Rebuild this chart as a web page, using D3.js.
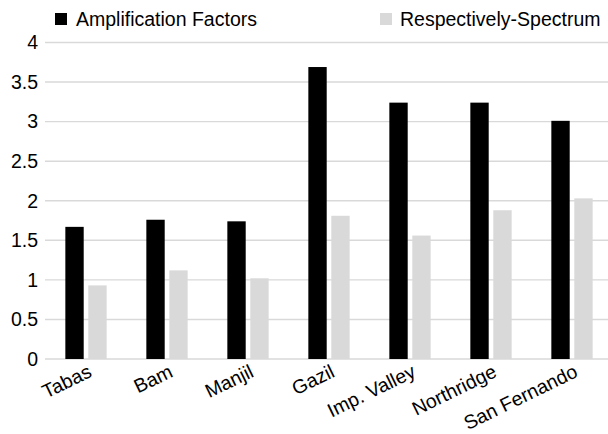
<!DOCTYPE html>
<html>
<head>
<meta charset="utf-8">
<script src="https://cdn.jsdelivr.net/npm/d3@7"></script>
<style>
  html, body { margin: 0; padding: 0; background: #fff; }
  svg { display: block; font-family: "Liberation Sans", Arial, sans-serif; }
</style>
</head>
<body>
<svg id="chart" width="608" height="434"></svg>
<script>
// Earthquake records and the two measures compared for each
const categories = ["Tabas", "Bam", "Manjil", "Gazil", "Imp. Valley", "Northridge", "San Fernando"];
const seriesNames = ["Amplification Factors", "Respectively-Spectrum"];
const amplificationFactors = [1.67, 1.76, 1.74, 3.69, 3.24, 3.24, 3.01];
const respectivelySpectrum = [0.93, 1.12, 1.02, 1.81, 1.56, 1.88, 2.03];
const yTicks = [0, 0.5, 1, 1.5, 2, 2.5, 3, 3.5, 4];
const colors = ["#000000", "#d9d9d9"];

const svg = d3.select("#chart");
const W = 608;

const x0 = d3.scaleBand()
  .domain(categories)
  .range([45.5, 612.5])
  .paddingInner(0.49)
  .paddingOuter(0.245);

const x1 = d3.scaleBand()
  .domain(seriesNames)
  .range([0, x0.bandwidth()])
  .paddingInner(0.2);

const y = d3.scaleLinear().domain([0, 4]).range([359, 42.5]);

const color = d3.scaleOrdinal().domain(seriesNames).range(colors);

// Horizontal gridlines
svg.append("g")
  .selectAll("line")
  .data(yTicks)
  .join("line")
  .attr("x1", 45)
  .attr("x2", W)
  .attr("y1", d => y(d))
  .attr("y2", d => y(d))
  .attr("stroke", "#d9d9d9")
  .attr("stroke-width", 1.4);

// Y axis labels
const yAxis = d3.axisLeft(y).tickValues(yTicks).tickSize(0).tickPadding(0).tickFormat(d3.format("~g"));
svg.append("g")
  .attr("transform", "translate(38,0)")
  .call(yAxis)
  .call(g => g.select(".domain").remove())
  .call(g => g.selectAll("text")
    .attr("font-size", "19.5px")
    .attr("fill", "#000")
    .attr("font-family", "Liberation Sans, Arial, sans-serif"));

// Bars
const rows = categories.map((c, i) => ({
  cat: c,
  values: [
    { key: seriesNames[0], value: amplificationFactors[i] },
    { key: seriesNames[1], value: respectivelySpectrum[i] }
  ]
}));

svg.append("g")
  .selectAll("g")
  .data(rows)
  .join("g")
  .attr("transform", d => `translate(${x0(d.cat)},0)`)
  .selectAll("rect")
  .data(d => d.values)
  .join("rect")
  .attr("x", d => x1(d.key))
  .attr("width", x1.bandwidth())
  .attr("y", d => y(d.value))
  .attr("height", d => y(0) - y(d.value))
  .attr("fill", d => color(d.key));

// Category labels, rotated
const xAxis = d3.axisBottom(x0).tickSize(0).tickPadding(0);
svg.append("g")
  .attr("transform", `translate(0,${y(0)})`)
  .call(xAxis)
  .call(g => g.select(".domain").remove())
  .call(g => g.selectAll(".tick text")
    .attr("font-size", "19.5px")
    .attr("fill", "#000")
    .attr("font-family", "Liberation Sans, Arial, sans-serif")
    .attr("text-anchor", "end")
    .attr("x", 0)
    .attr("y", 0)
    .attr("dy", 0)
    .attr("transform", "translate(7,17) rotate(-26)"));

// Legend
const legendPos = [{ sx: 55, tx: 76 }, { sx: 380, tx: 400 }];
const legend = svg.append("g")
  .selectAll("g")
  .data(seriesNames)
  .join("g");
legend.append("rect")
  .attr("x", (d, i) => legendPos[i].sx)
  .attr("y", 13)
  .attr("width", 12)
  .attr("height", 12)
  .attr("fill", d => color(d));
legend.append("text")
  .attr("x", (d, i) => legendPos[i].tx)
  .attr("y", 26)
  .attr("font-size", "19.5px")
  .attr("fill", "#000")
  .text(d => d);
</script>
</body>
</html>
